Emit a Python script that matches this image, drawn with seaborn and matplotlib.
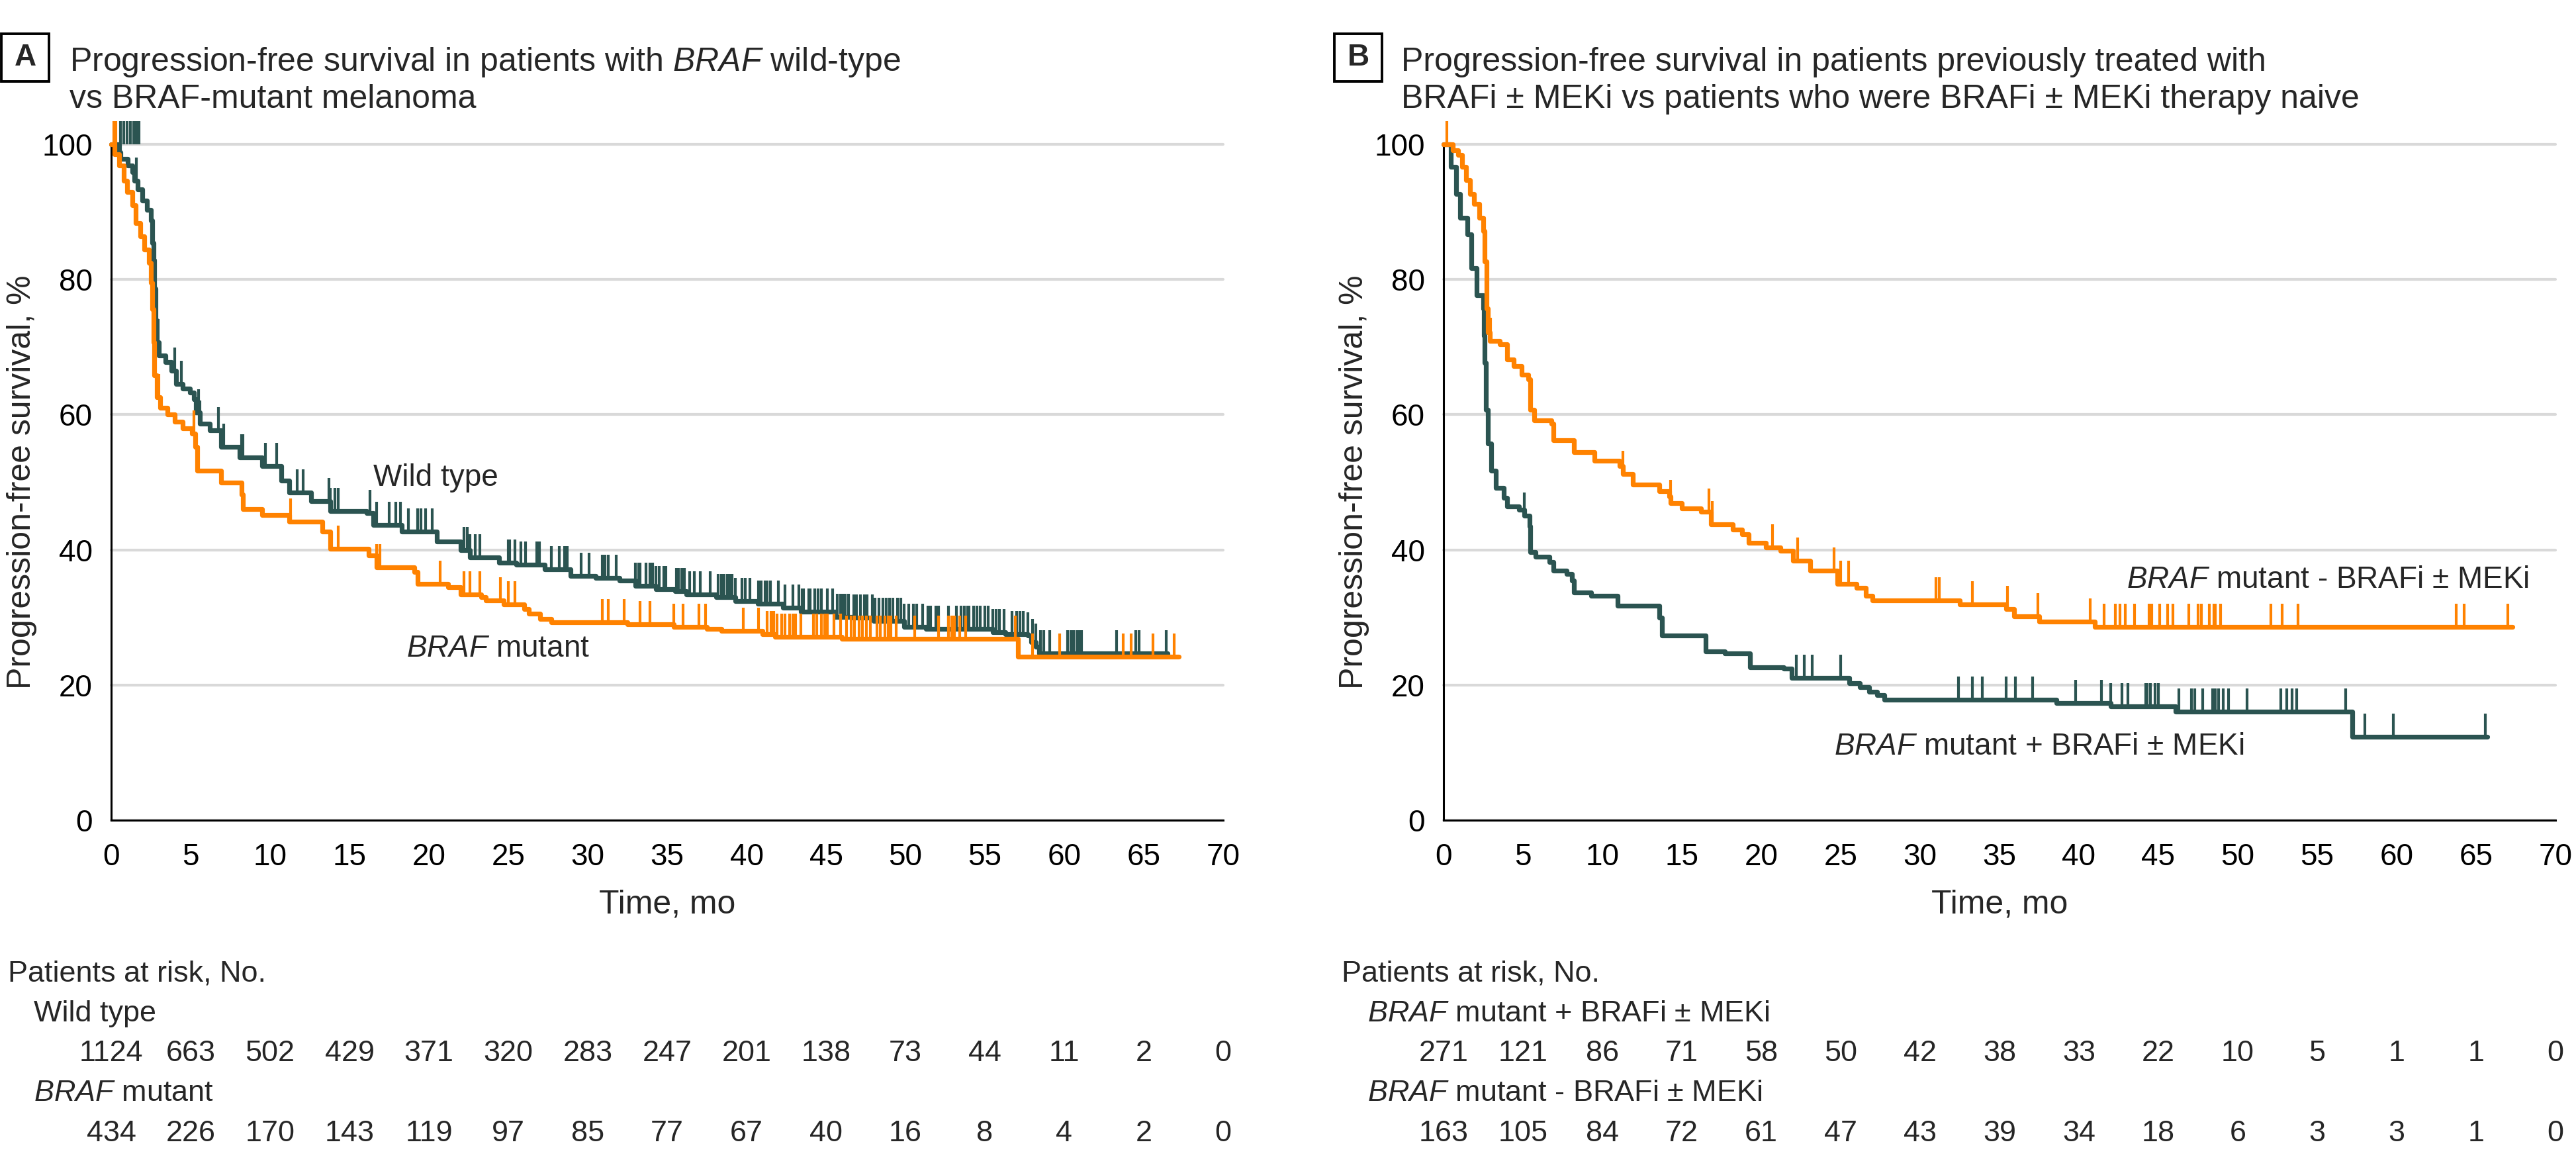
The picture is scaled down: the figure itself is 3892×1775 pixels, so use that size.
import numpy as np
import matplotlib
matplotlib.use("Agg")
import matplotlib.pyplot as plt
import matplotlib.transforms as mtransforms
from matplotlib.patches import Rectangle
import seaborn as sns

sns.set_theme(style="white")
plt.rcParams['font.family'] = ['Liberation Sans', 'DejaVu Sans']
plt.rcParams['mathtext.fontset'] = 'custom'
plt.rcParams['mathtext.rm'] = 'Liberation Sans'
plt.rcParams['mathtext.it'] = 'Liberation Sans:italic'

TEAL = '#2b5451'
ORANGE = '#ff8200'
GRID = '#d9d9d9'

# ---- Panel A: wild type vs BRAF mutant (step curves, % PFS) ----
wt_t = [0, 0.5, 0.6, 1.05, 1.33, 1.47, 1.67, 1.96, 2.24, 2.5, 2.58, 2.65, 2.7, 2.8, 2.83, 3.0, 3.4,
        3.8, 4.1, 4.5, 4.95, 5.2, 5.35, 5.6, 6.2, 6.9, 8.1, 9.5, 10.7, 11.2, 12.6, 13.8, 16.1, 16.5,
        18.3, 20.5, 22.0, 22.6, 24.4, 25.5, 27.3, 28.9, 30.5, 32.0, 33.0, 34.3, 35.5, 36.2, 38.1,
        39.3, 40.7, 42.3, 43.4, 45.6, 46.7, 48.0, 49.9, 51.3, 55.5, 56.3, 57.7, 57.9, 58.2, 58.4, 66.5]
wt_s = [100, 98.8, 97.8, 96.9, 95.9, 94.6, 93.3, 91.7, 90.3, 88.7, 85.4, 82.9, 78.6, 74.0, 70.7,
        68.8, 67.8, 66.5, 64.5, 63.9, 63.3, 62.3, 60.3, 58.7, 57.7, 55.2, 53.7, 52.4, 50.2, 48.5,
        47.2, 45.7, 45.4, 43.7, 42.7, 41.2, 40.0, 38.9, 38.1, 37.8, 37.1, 36.1, 35.8, 35.5, 34.7,
        34.2, 33.9, 33.4, 33.0, 32.4, 32.0, 31.4, 30.9, 30.1, 30.0, 29.5, 28.6, 28.3, 27.8, 27.5,
        27.3, 26.3, 25.7, 24.7, 24.4]
mut_t = [0, 0.2, 0.5, 0.8, 1.0, 1.33, 1.54, 1.83, 2.1, 2.38, 2.5, 2.58, 2.65, 2.7, 2.87, 3.1, 3.55,
         4.0, 4.5, 5.1, 5.3, 5.4, 6.9, 8.2, 8.3, 9.5, 11.2, 13.3, 13.8, 16.2, 16.7, 19.1, 19.3, 21.2,
         22.0, 23.3, 23.6, 24.7, 26.0, 26.3, 27.0, 27.7, 32.5, 35.4, 37.5, 38.4, 41.0, 41.8, 46.0,
         57.1, 67.2]
mut_s = [100, 98.5, 96.9, 94.6, 92.9, 91.0, 88.3, 86.4, 84.4, 82.5, 79.5, 75.6, 70.7, 65.8, 62.6,
         61.0, 60.0, 59.0, 58.0, 57.2, 55.2, 51.7, 50.0, 48.2, 46.0, 45.2, 44.2, 42.7, 40.2, 39.2,
         37.4, 36.7, 35.0, 34.5, 33.4, 33.0, 32.5, 31.9, 31.2, 30.6, 29.8, 29.3, 29.0, 28.6, 28.3,
         28.0, 27.5, 27.1, 26.8, 24.2, 24.2]

wt_cens = [1.6, 2.9, 2.95, 4.0, 4.4, 5.5, 5.6, 6.75, 7.1, 8.2, 8.3, 9.7, 10.4, 11.7, 12.1, 13.7,
           13.8, 14.1, 14.3, 16.3, 16.7, 17.5, 17.9, 18.2, 18.7, 19.3, 19.5, 19.8, 20.2, 22.2, 22.4,
           22.6, 22.9, 23.2, 25.0, 25.1, 25.4, 25.8, 26.1, 26.8, 26.95, 27.7, 28.2, 28.55, 28.7,
           29.6, 30.1, 30.9, 31.1, 31.3, 31.8, 33.0, 33.2, 33.3, 33.65, 33.9, 34.1, 34.3, 34.5,
           34.8, 34.9, 35.6, 35.7, 35.9, 36.1, 36.4, 36.7, 37.1, 37.7, 38.2, 38.4, 38.6, 38.8,
           38.9, 39.1, 39.3, 39.7, 39.9, 40.2, 40.75, 40.9, 41.15, 41.3, 41.5, 42.0, 42.4, 42.9,
           43.3, 43.5, 43.6, 43.9, 44.0, 44.3, 44.5, 44.7, 45.1, 45.4, 45.7, 45.9, 46.1, 46.2,
           46.4, 46.75, 46.9, 47.15, 47.4, 47.6, 47.9, 48.1, 48.35, 48.6, 48.8, 49.0, 49.2, 49.5,
           49.7, 49.9, 50.2, 50.5, 50.7, 51.1, 51.4, 51.6, 51.9, 52.1, 52.7, 53.2, 53.5, 53.7,
           53.9, 54.0, 54.3, 54.5, 54.7, 55.0, 55.2, 55.5, 55.7, 55.9, 56.2, 56.7, 57.0, 57.2,
           57.4, 57.7, 58.0, 58.2, 58.5, 58.7, 59.1, 60.2, 60.4, 60.6, 60.8, 60.95, 61.1, 63.3,
           64.5, 64.7, 66.4]
wt_cens_top = [0.6, 0.8, 1.0, 1.2, 1.4, 1.6, 1.75]
mut_cens = [2.6, 3.0, 5.2, 11.3, 14.3, 16.7, 16.9, 20.7, 22.2, 22.6, 23.2, 24.5, 25.0, 25.4, 30.9,
            31.3, 32.3, 33.3, 33.9, 35.4, 36.0, 37.0, 37.4, 39.8, 40.75, 41.3, 41.55, 41.7, 41.9,
            42.2, 42.4, 42.7, 42.9, 43.1, 43.4, 44.2, 44.4, 44.7, 44.9, 45.1, 45.5, 45.9, 46.3,
            46.6, 46.8, 47.1, 47.3, 47.55, 47.8, 48.2, 48.4, 48.7, 48.9, 49.1, 49.4, 50.6, 52.1,
            52.7, 52.9, 53.1, 53.4, 53.8, 56.9, 58.0, 59.7, 63.7, 64.2, 65.6, 66.9]
mut_cens_top = [0.15, 0.3]

# ---- Panel B: previously treated vs naive ----
pt_t = [0, 0.45, 0.8, 1.05, 1.5, 1.75, 2.1, 2.5, 2.55, 2.6, 2.65, 2.8, 3.0, 3.3, 3.8, 4.0, 4.75,
        5.1, 5.4, 5.45, 5.8, 6.65, 6.9, 7.75, 8.1, 8.2, 9.3, 10.95, 13.6, 13.75, 16.5, 17.7, 19.3,
        21.4, 21.9, 25.55, 26.2, 26.8, 27.3, 27.75, 38.6, 42.0, 46.1, 57.2, 65.7]
pt_s = [100, 96.7, 92.7, 89.1, 86.7, 81.7, 77.7, 75.7, 71.7, 67.7, 60.7, 55.7, 51.7, 49.2, 47.7,
        46.4, 45.9, 45.1, 43.5, 39.7, 39.0, 38.2, 36.9, 36.4, 35.5, 33.7, 33.2, 31.7, 30.0, 27.3,
        25.0, 24.7, 22.6, 22.4, 21.1, 20.3, 19.7, 19.0, 18.5, 17.8, 17.3, 16.8, 16.1, 12.3, 12.3]
nv_t = [0, 0.6, 0.9, 1.15, 1.4, 1.65, 1.9, 2.25, 2.5, 2.6, 2.7, 2.8, 2.9, 3.55, 4.0, 4.4, 4.9,
        5.35, 5.45, 5.7, 6.8, 6.9, 8.2, 9.5, 11.1, 11.3, 11.9, 13.6, 14.2, 14.3, 15.0, 16.2, 16.85,
        18.2, 18.8, 19.2, 20.3, 21.2, 22.0, 23.1, 24.8, 26.0, 26.6, 27.0, 32.5, 35.4, 35.9, 37.5,
        41.0, 67.3]
nv_s = [100, 99.1, 98.4, 96.7, 94.7, 92.7, 91.2, 89.1, 87.2, 82.7, 75.7, 72.2, 70.9, 70.4, 68.2,
        67.2, 65.9, 65.2, 60.7, 59.2, 58.7, 56.2, 54.5, 53.2, 52.4, 51.2, 49.7, 48.7, 47.9, 46.9,
        46.1, 45.6, 43.8, 43.0, 42.3, 41.0, 40.4, 39.9, 38.4, 36.9, 35.0, 34.4, 33.2, 32.5, 31.9,
        31.2, 30.2, 29.4, 28.6, 28.6]

pt_cens = [2.7, 5.1, 22.2, 22.7, 23.2, 25.0, 32.4, 33.3, 33.9, 35.4, 36.0, 37.1, 39.8, 41.4, 42.0,
           42.7, 43.1, 44.2, 44.3, 44.5, 44.8, 45.0, 46.3, 47.1, 47.3, 47.8, 48.4, 48.6, 48.8,
           49.1, 49.4, 50.6, 52.7, 53.1, 53.4, 53.7, 56.8, 58.0, 59.8, 65.6]
nv_cens = [2.95, 11.3, 14.3, 16.7, 16.9, 20.7, 22.3, 24.6, 25.0, 25.5, 31.0, 31.2, 33.3, 35.5,
           37.4, 40.7, 41.6, 42.3, 42.6, 42.9, 43.5, 44.4, 44.6, 45.1, 45.6, 45.9, 46.9, 47.5,
           47.7, 48.2, 48.5, 48.6, 48.9, 52.1, 52.8, 53.8, 63.75, 64.25, 67.0]
nv_cens_top = [0.2]

# ---- risk tables ----
risk_times = list(range(0, 71, 5))
wt_risk = [1124, 663, 502, 429, 371, 320, 283, 247, 201, 138, 73, 44, 11, 2, 0]
mut_risk = [434, 226, 170, 143, 119, 97, 85, 77, 67, 40, 16, 8, 4, 2, 0]
pt_risk = [271, 121, 86, 71, 58, 50, 42, 38, 33, 22, 10, 5, 1, 1, 0]
nv_risk = [163, 105, 84, 72, 61, 47, 43, 39, 34, 18, 6, 3, 3, 1, 0]

W, H = 3892, 1775
DPI = 200
fig = plt.figure(figsize=(W / DPI, H / DPI), dpi=DPI)


def fx(px):
    return px / W


def fy(py):
    return 1 - py / H


def value_at(t, s, times):
    t = np.asarray(t)
    s = np.asarray(s)
    idx = np.searchsorted(t, times, side='right') - 1
    return s[np.clip(idx, 0, len(s) - 1)]


def draw_curve(ax, t, s, cens, cens_top, color):
    sns.lineplot(x=t, y=s, ax=ax, color=color, lw=2.6, drawstyle='steps-post',
                 estimator=None, sort=False, clip_on=False, zorder=3)
    cy = value_at(t, s, cens)
    ax.plot(cens, cy, ls='none', marker=2, ms=12.5, mew=1.5, color=color,
            clip_on=False, zorder=3)
    if cens_top:
        ax.plot(cens_top, [100] * len(cens_top), ls='none', marker=2, ms=12.5, mew=1.5,
                color=color, clip_on=False, zorder=3)


def setup_axes(left_px):
    ax = fig.add_axes([fx(left_px), fy(1239), 1680 / W, 1021 / H])
    ax.set_xlim(0, 70)
    ax.set_ylim(0, 100)
    ax.set_xticks(range(0, 71, 5))
    ax.set_yticks(range(0, 101, 20))
    for side in ['top', 'right']:
        ax.spines[side].set_visible(False)
    for side in ['left', 'bottom']:
        ax.spines[side].set_color('black')
        ax.spines[side].set_linewidth(1.1)
    ax.tick_params(axis='both', direction='out', length=5.8, width=1.1, color='black',
                   labelsize=16.5, labelcolor='black')
    ax.tick_params(axis='x', pad=6.5)
    ax.tick_params(axis='y', pad=4.3)
    ax.yaxis.grid(True, color=GRID, lw=1.5, zorder=0)
    ax.xaxis.grid(False)
    for gl in ax.get_ygridlines():
        gl.set_clip_on(False)
    ax.set_axisbelow(True)
    ax.text(-0.0804, 0.5, 'Progression-free survival, %', rotation=90, transform=ax.transAxes,
            ha='center', va='center', fontsize=18)
    ax.text(0.5, -0.138, 'Time, mo', transform=ax.transAxes, ha='center', va='baseline',
            fontsize=18)
    return ax


def panel_label(x0, letter):
    fig.patches.append(Rectangle((fx(x0), fy(123)), 72 / W, 72 / H, transform=fig.transFigure,
                                 fill=False, ec='black', lw=1.4))
    fig.text(fx(x0 + 36), fy(87), letter, ha='center', va='center', fontsize=16.5,
             fontweight='bold')


def risk_table(ax, x_left, rows):
    trans = mtransforms.blended_transform_factory(ax.transData, fig.transFigure)
    fig.text(fx(x_left), fy(1482), 'Patients at risk, No.', fontsize=16.2, va='baseline')
    for (label, counts), (lab_y, num_y) in zip(rows, [(1543, 1603), (1663, 1724)]):
        fig.text(fx(x_left + 39), fy(lab_y), label, fontsize=16.2, va='baseline')
        for t, n in zip(risk_times, counts):
            ax.text(t, fy(num_y), str(n), transform=trans, ha='center', va='baseline',
                    fontsize=16.2)


# Panel A
axA = setup_axes(168)
draw_curve(axA, wt_t, wt_s, wt_cens, wt_cens_top, TEAL)
draw_curve(axA, mut_t, mut_s, mut_cens, mut_cens_top, ORANGE)
axA.text(16.5, 49.5, 'Wild type', fontsize=16.5, va='baseline')
axA.text(18.6, 24.2, r'$\mathit{BRAF}$ mutant', fontsize=16.5, va='baseline')
panel_label(2, 'A')
fig.text(fx(105), fy(107), r'Progression-free survival in patients with $\mathit{BRAF}$ wild-type',
         fontsize=18, va='baseline')
fig.text(fx(105), fy(163), 'vs BRAF-mutant melanoma', fontsize=18, va='baseline')
risk_table(axA, 12, [('Wild type', wt_risk), (r'$\mathit{BRAF}$ mutant', mut_risk)])

# Panel B
axB = setup_axes(2181)
draw_curve(axB, pt_t, pt_s, pt_cens, [], TEAL)
draw_curve(axB, nv_t, nv_s, nv_cens, nv_cens_top, ORANGE)
axB.text(43.0, 34.4, r'$\mathit{BRAF}$ mutant - BRAFi ± MEKi', fontsize=16.5, va='baseline')
axB.text(24.6, 9.7, r'$\mathit{BRAF}$ mutant + BRAFi ± MEKi', fontsize=16.5, va='baseline')
panel_label(2016, 'B')
fig.text(fx(2117), fy(107), 'Progression-free survival in patients previously treated with',
         fontsize=18, va='baseline')
fig.text(fx(2117), fy(163), 'BRAFi ± MEKi vs patients who were BRAFi ± MEKi therapy naive',
         fontsize=18, va='baseline')
risk_table(axB, 2027, [(r'$\mathit{BRAF}$ mutant + BRAFi ± MEKi', pt_risk),
                       (r'$\mathit{BRAF}$ mutant - BRAFi ± MEKi', nv_risk)])

fig.savefig('out.png', dpi=DPI, facecolor='white')
